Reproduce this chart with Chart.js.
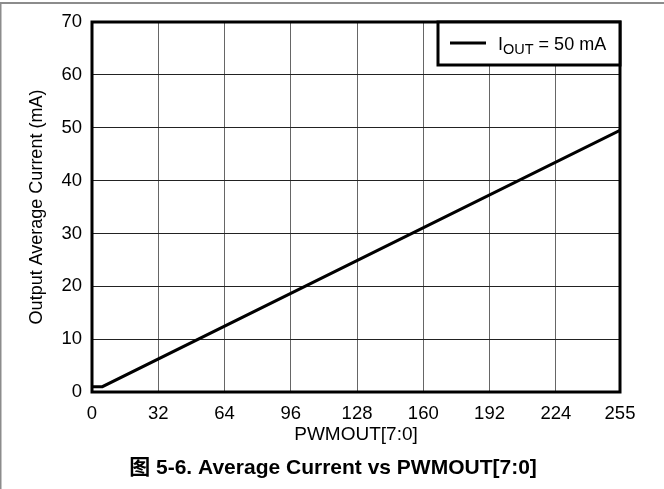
<!DOCTYPE html>
<html>
<head>
<meta charset="utf-8">
<script src="https://cdn.jsdelivr.net/npm/chart.js@4"></script>
<style>
  html, body { margin: 0; padding: 0; background: #fff; }
  #wrap { width: 664px; height: 489px; }
</style>
</head>
<body>
<div id="wrap"><canvas id="chart" width="664" height="489"></canvas></div>
<script>
// values
const pwmCodes = [0, 5, 255];
const avgCurrent = [1, 1, 49.5];
const xTickValues = [0, 32, 64, 96, 128, 160, 192, 224, 255];
const yTickValues = [0, 10, 20, 30, 40, 50, 60, 70];
const seriesLabel = 'IOUT = 50 mA';
const caption = '图 5-6. Average Current vs PWMOUT[7:0]';

const FONT = '"Liberation Sans", Arial, "Noto Sans CJK SC", sans-serif';

const pagePlugin = {
  id: 'page',
  beforeDraw(chart) {
    const ctx = chart.ctx;
    ctx.save();
    ctx.fillStyle = '#fff';
    ctx.fillRect(0, 0, chart.width, chart.height);
    ctx.fillStyle = '#8c8c8c';
    ctx.fillRect(0, 2, chart.width, 2);
    ctx.fillRect(0, 2, 1.5, chart.height);
    ctx.restore();
  },
  afterDraw(chart) {
    const ctx = chart.ctx;
    const a = chart.chartArea;
    ctx.save();
    // plot frame
    ctx.strokeStyle = '#000';
    ctx.lineWidth = 3;
    ctx.strokeRect(a.left, a.top, a.right - a.left, a.bottom - a.top);

    // legend box, top right inside the plot
    const bx = 438, by = a.top, bw = a.right - 438, bh = 43;
    ctx.fillStyle = '#fff';
    ctx.fillRect(bx, by, bw, bh);
    ctx.strokeRect(bx, by, bw, bh);
    ctx.beginPath();
    ctx.moveTo(450, by + 21);
    ctx.lineTo(486, by + 21);
    ctx.stroke();
    ctx.fillStyle = '#000';
    ctx.textBaseline = 'alphabetic';
    ctx.textAlign = 'left';
    let x = 498;
    const base = by + 28;
    ctx.font = '18px ' + FONT;
    ctx.fillText(seriesLabel.slice(0, 1), x, base);
    x += ctx.measureText(seriesLabel.slice(0, 1)).width;
    ctx.font = '14.5px ' + FONT;
    ctx.fillText(seriesLabel.slice(1, 4), x, base + 4);
    x += ctx.measureText(seriesLabel.slice(1, 4)).width;
    ctx.font = '18px ' + FONT;
    ctx.fillText(seriesLabel.slice(4), x, base);

    // figure caption
    ctx.font = 'bold 21px ' + FONT;
    ctx.textAlign = 'center';
    ctx.textBaseline = 'middle';
    ctx.fillText(caption, 333, 468);
    ctx.restore();
  }
};

new Chart(document.getElementById('chart'), {
  type: 'line',
  data: {
    datasets: [{
      label: seriesLabel,
      data: pwmCodes.map((c, i) => ({ x: c, y: avgCurrent[i] })),
      borderColor: '#000',
      borderWidth: 3,
      pointRadius: 0,
      tension: 0,
      fill: false
    }]
  },
  options: {
    responsive: false,
    animation: false,
    devicePixelRatio: 1,
    layout: { padding: { top: 22, right: 44, left: 0, bottom: 43 } },
    plugins: {
      legend: { display: false },
      tooltip: { enabled: false }
    },
    scales: {
      x: {
        type: 'linear',
        min: 0,
        max: 255,
        afterBuildTicks: scale => { scale.ticks = xTickValues.map(v => ({ value: v })); },
        afterFit: scale => { scale.height = 54; },
        ticks: { color: '#000', padding: 11, font: { size: 18.5, family: FONT }, maxRotation: 0, autoSkip: false },
        grid: { color: '#666', lineWidth: 1, drawTicks: false },
        border: { display: false },
        title: { display: true, text: 'PWMOUT[7:0]', color: '#000', font: { size: 19, family: FONT }, padding: 0 }
      },
      y: {
        min: 0,
        max: 70,
        afterBuildTicks: scale => { scale.ticks = yTickValues.map(v => ({ value: v })); },
        afterFit: scale => { scale.width = 92; },
        ticks: { color: '#000', padding: 10, font: { size: 18.5, family: FONT } },
        grid: { color: '#222', lineWidth: 1, drawTicks: false },
        border: { display: false },
        title: { display: true, text: 'Output Average Current (mA)', color: '#000', font: { size: 18, family: FONT }, padding: { top: 26, bottom: 0 } }
      }
    }
  },
  plugins: [pagePlugin]
});
</script>
</body>
</html>
